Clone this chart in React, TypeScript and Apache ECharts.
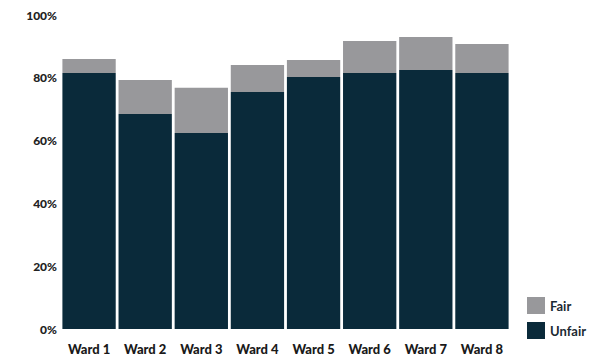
import React, { useEffect, useRef } from "react";
import * as echarts from "echarts";

const categories = ["Ward 1", "Ward 2", "Ward 3", "Ward 4", "Ward 5", "Ward 6", "Ward 7", "Ward 8"];
const unfairValues = [81.5, 68.5, 62.4, 75.5, 80.3, 81.5, 82.5, 81.5];
const fairValues = [4.5, 10.8, 14.4, 8.6, 5.4, 10.2, 10.5, 9.3];
const tickValues = [0, 20, 40, 60, 80, 100];

const FONT = "Lato, 'DejaVu Sans', sans-serif";

export default function App() {
  const ref = useRef<HTMLDivElement>(null);
  useEffect(() => {
    document.body.style.margin = "0";
    const chart = echarts.init(ref.current!, null, { renderer: "svg" });
    chart.setOption({
      animation: false,
      backgroundColor: "#ffffff",
      grid: { left: 61, right: 94, top: 15, bottom: 22, containLabel: false },
      legend: {
        orient: "vertical",
        left: 522,
        top: 292,
        itemWidth: 18,
        itemHeight: 17,
        itemGap: 8,
        icon: "rect",
        data: ["Fair", "Unfair"],
        textStyle: { fontFamily: FONT, fontWeight: "bold", fontSize: 13, color: "#1c2a33" },
      },
      xAxis: {
        type: "category",
        data: categories,
        axisLine: { show: false },
        axisTick: { show: false },
        axisLabel: { fontFamily: FONT, fontWeight: 900, fontSize: 13, color: "#1a1a1a", margin: 6 },
      },
      yAxis: {
        type: "value",
        min: -2.2,
        max: 100,
        splitLine: { show: false },
        axisLine: { show: false },
        axisTick: { show: false },
        axisLabel: {
          customValues: tickValues,
          formatter: (v: number) => `${Math.round(v)}%`,
          fontFamily: FONT,
          fontWeight: 900,
          fontSize: 12,
          color: "#222222",
          margin: 4,
        },
      },
      series: [
        {
          name: "Unfair",
          type: "bar",
          stack: "total",
          data: unfairValues,
          barCategoryGap: "5%",
          itemStyle: { color: "#0a2a3a" },
        },
        {
          name: "Fair",
          type: "bar",
          stack: "total",
          data: fairValues,
          barCategoryGap: "5%",
          itemStyle: { color: "#98989b" },
        },
      ],
    });
    return () => chart.dispose();
  }, []);
  return <div ref={ref} style={{ width: 604, height: 358 }} />;
}
